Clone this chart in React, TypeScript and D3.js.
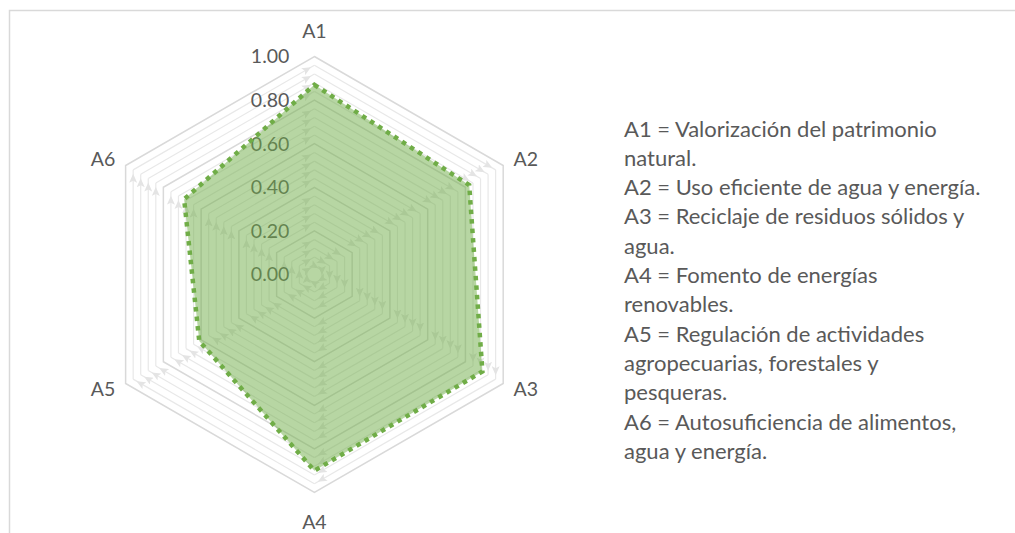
import React, { useEffect, useRef } from 'react';
import * as d3 from 'd3';

const categories = ['A1', 'A2', 'A3', 'A4', 'A5', 'A6'];
const values = [0.87, 0.82, 0.89, 0.90, 0.61, 0.69];
const tickValues = [0, 0.2, 0.4, 0.6, 0.8, 1.0];
const legendLines = [
  'A1 = Valorización del patrimonio',
  'natural.',
  'A2 = Uso eficiente de agua y energía.',
  'A3 = Reciclaje de residuos sólidos y',
  'agua.',
  'A4 = Fomento de energías',
  'renovables.',
  'A5 = Regulación de actividades',
  'agropecuarias, forestales y',
  'pesqueras.',
  'A6 = Autosuficiencia de alimentos,',
  'agua y energía.',
];

const App = () => {
  const domref = useRef(null);
  const width = 1015;
  const height = 533;
  const cx = 314.4;
  const cy = 274.5;
  const radius = 218;

  useEffect(() => {
    document.body.style.margin = '0';
    d3.select(domref.current).selectAll('svg').remove();

    const font = 'Lato, "Open Sans", sans-serif';
    const textColor = '#595959';

    const svg = d3.select(domref.current)
      .append('svg')
      .attr('width', width)
      .attr('height', height)
      .style('display', 'block');

    // chart border (runs off the right / bottom of the picture)
    svg.append('rect')
      .attr('x', 9.5)
      .attr('y', 10.5)
      .attr('width', width + 20)
      .attr('height', height + 20)
      .attr('fill', '#fff')
      .attr('stroke', '#d9d9d9')
      .attr('stroke-width', 1.5);

    svg.append('defs')
      .append('marker')
      .attr('id', 'arrow')
      .attr('markerUnits', 'userSpaceOnUse')
      .attr('markerWidth', 10)
      .attr('markerHeight', 8)
      .attr('viewBox', '0 0 10 8')
      .attr('refX', 13)
      .attr('refY', 4)
      .attr('orient', 'auto')
      .append('path')
      .attr('d', 'M0,0 L9,4 L0,8 L2,4 Z')
      .attr('fill', '#e4e4e4');

    const r = d3.scaleLinear().domain([0, 1]).range([0, radius]);
    const angle = (i) => (i * 2 * Math.PI) / categories.length;
    const px = (i, v) => r(v) * Math.sin(angle(i));
    const py = (i, v) => -r(v) * Math.cos(angle(i));

    const g = svg.append('g').attr('transform', `translate(${cx},${cy})`);

    // minor gridlines every 0.04, each segment ends in an arrowhead
    const minor = d3.range(1, 25).map(k => k * 0.04).filter(v => Math.abs(v / 0.2 - Math.round(v / 0.2)) > 1e-6);
    const segs = [];
    minor.forEach(v => categories.forEach((c, i) => segs.push({ v, i })));
    g.append('g')
      .selectAll('line')
      .data(segs)
      .join('line')
      .attr('x1', d => px(d.i, d.v))
      .attr('y1', d => py(d.i, d.v))
      .attr('x2', d => px((d.i + 1) % 6, d.v))
      .attr('y2', d => py((d.i + 1) % 6, d.v))
      .attr('stroke', '#e8e8e8')
      .attr('stroke-width', 1.2)
      .attr('marker-end', 'url(#arrow)');

    // major gridlines
    const ring = d3.lineRadial()
      .angle((d, i) => angle(i))
      .radius(d => r(d))
      .curve(d3.curveLinearClosed);
    g.append('g')
      .selectAll('path')
      .data(tickValues.filter(v => v > 0))
      .join('path')
      .attr('d', v => ring(categories.map(() => v)))
      .attr('fill', 'none')
      .attr('stroke', '#d9d9d9')
      .attr('stroke-width', 1.5);

    // tick labels
    g.append('g')
      .attr('font-family', font)
      .attr('font-size', 19.5)
      .attr('fill', textColor)
      .selectAll('text')
      .data(tickValues)
      .join('text')
      .attr('x', -25)
      .attr('y', v => -r(v))
      .attr('dy', '0.35em')
      .attr('text-anchor', 'end')
      .text(v => d3.format('.2f')(v));

    // category labels
    g.append('g')
      .attr('font-family', font)
      .attr('font-size', 19.5)
      .attr('fill', textColor)
      .selectAll('text')
      .data(categories)
      .join('text')
      .attr('x', (d, i) => (radius + 12) * Math.sin(angle(i)))
      .attr('y', (d, i) => {
        const c = Math.cos(angle(i));
        const y = -(radius + 12) * c;
        return c > 0.9 ? y - 13 : c < -0.9 ? y + 18 : y;
      })
      .attr('dy', '0.35em')
      .attr('text-anchor', (d, i) => {
        const s = Math.sin(angle(i));
        return s > 0.1 ? 'start' : s < -0.1 ? 'end' : 'middle';
      })
      .text(d => d);

    // series
    g.append('path')
      .attr('d', ring(values))
      .attr('fill', '#70ad47')
      .attr('fill-opacity', 0.5)
      .attr('stroke', '#70ad47')
      .attr('stroke-width', 4.5)
      .attr('stroke-dasharray', '4.5 5')
      .attr('stroke-linejoin', 'miter');

    // legend text
    svg.append('g')
      .attr('font-family', font)
      .attr('font-size', 22)
      .attr('fill', textColor)
      .selectAll('text')
      .data(legendLines)
      .join('text')
      .attr('x', 624)
      .attr('y', (d, i) => 136.5 + i * 29.3)
      .text(d => d);
  }, []);

  return <div ref={domref}></div>;
};

export default App;
